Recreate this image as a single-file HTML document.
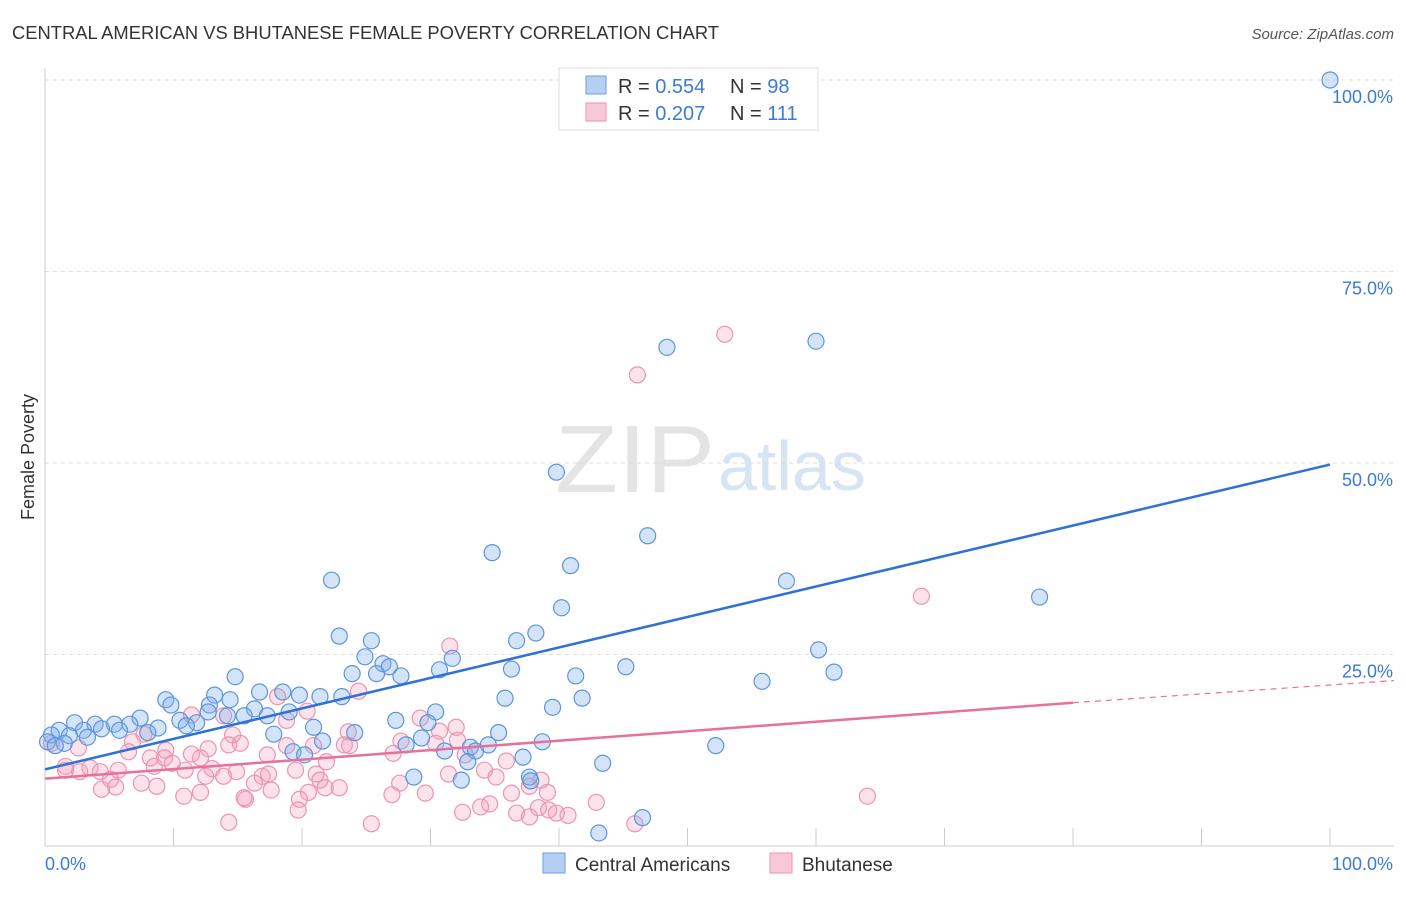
<!DOCTYPE html>
<html><head><meta charset="utf-8"><style>
body{margin:0;background:#fff;font-family:"Liberation Sans",sans-serif;}
svg text{font-family:"Liberation Sans",sans-serif;}
</style></head><body>
<svg id="chart" width="1406" height="892">
<text x="12" y="39" font-size="18" fill="#333" textLength="707" lengthAdjust="spacingAndGlyphs">CENTRAL AMERICAN VS BHUTANESE FEMALE POVERTY CORRELATION CHART</text>
<text x="1394" y="39" font-size="15" fill="#555" font-style="italic" text-anchor="end">Source: ZipAtlas.com</text>
<text transform="translate(34,457) rotate(-90)" font-size="18" fill="#333" text-anchor="middle">Female Poverty</text>
<text x="555" y="492" font-size="96" fill="#e4e4e4" font-family="Liberation Serif" textLength="160" lengthAdjust="spacingAndGlyphs">ZIP</text>
<text x="718" y="490" font-size="70" fill="#d6e4f3">atlas</text>
<g id="grid"></g><g id="axes"></g><g id="pts"></g><g id="trend"></g>
<g>
<rect x="559" y="68" width="259" height="62" fill="#fff" stroke="#ddd"/>
<rect x="586" y="76" width="20" height="18" fill="#b5cff2" stroke="#6a9ee0"/>
<rect x="586" y="103" width="20" height="18" fill="#f8c8d8" stroke="#eb93b2"/>
<text x="618" y="93" font-size="20" fill="#333">R = <tspan fill="#3a7bd5">0.554</tspan></text>
<text x="730" y="93" font-size="20" fill="#333">N = <tspan fill="#3a7bd5">98</tspan></text>
<text x="618" y="120" font-size="20" fill="#333">R = <tspan fill="#3a7bd5">0.207</tspan></text>
<text x="730" y="120" font-size="20" fill="#333">N = <tspan fill="#3a7bd5">111</tspan></text>
</g>
<g>
<rect x="543" y="853" width="22" height="20" fill="#b5cff2" stroke="#6a9ee0"/>
<text x="575" y="871" font-size="19" fill="#333">Central Americans</text>
<rect x="770" y="853" width="22" height="20" fill="#f8c8d8" stroke="#eb93b2"/>
<text x="802" y="871" font-size="19" fill="#333">Bhutanese</text>
</g>
</svg>
<script>
const blueX=[100,48.4,60.0,39.8,46.9,34.8,40.9,22.3,57.7,77.4,40.2,38.2,36.7,22.9,25.4,60.2,31.7,24.9,26.3,26.8,45.2,30.7,36.3,23.9,25.8,27.7,41.3,61.4,55.8,14.8,16.7,18.5,19.8,21.4,23.1,13.2,9.4,14.4,35.8,41.8,9.8,12.8,12.7,16.3,19.0,30.4,39.5,14.2,15.5,17.3,10.5,11.8,7.4,2.3,3.9,5.4,6.6,8.8,27.3,29.8,20.9,11.0,1.1,3.0,4.4,5.8,8.0,24.1,17.8,35.3,0.5,1.9,3.3,0.2,1.5,0.8,21.6,29.3,38.7,52.2,28.1,33.1,34.5,19.3,20.2,31.1,33.5,37.2,32.9,43.4,28.7,32.4,37.7,37.8,46.5,43.1];
const blueY=[100,65.1,65.9,48.8,40.5,38.3,36.6,34.7,34.6,32.5,31.1,27.8,26.8,27.4,26.8,25.6,24.5,24.7,23.8,23.4,23.4,23.0,23.1,22.5,22.5,22.2,22.2,22.7,21.5,22.1,20.1,20.1,19.7,19.5,19.5,19.7,19.1,19.1,19.3,19.3,18.4,18.4,17.5,17.9,17.5,17.5,18.1,17.0,17.0,17.0,16.4,16.1,16.7,16.1,15.9,15.9,15.9,15.4,16.4,16.1,15.5,15.7,15.1,15.1,15.3,15.1,14.8,14.8,14.6,14.8,14.5,14.4,14.2,13.6,13.4,13.1,13.7,14.1,13.6,13.1,13.2,12.9,13.2,12.3,11.9,12.4,12.4,11.6,11.0,10.8,9.0,8.6,9.0,8.5,3.7,1.7];
const pinkX=[52.9,46.1,68.2,31.5,24.4,18.1,20.4,29.2,11.4,13.9,18.8,32.0,23.6,30.7,14.6,7.7,32.1,27.7,30.4,23.7,14.3,15.2,6.8,0.5,2.6,18.8,20.9,23.3,12.7,6.5,9.4,11.4,17.3,27.1,8.2,9.3,9.9,12.1,32.7,35.9,21.9,5.7,1.6,3.5,8.5,10.9,13.0,14.9,19.5,1.6,2.7,4.3,34.2,21.1,31.4,16.9,17.4,13.9,5.1,12.5,21.4,35.1,38.6,16.3,27.6,37.7,5.5,4.4,7.5,8.7,17.6,22.9,21.8,20.5,12.1,10.8,27.0,29.6,39.1,36.3,15.6,19.8,64.0,15.5,34.6,33.9,42.9,32.5,36.7,38.4,39.2,39.8,40.7,19.7,37.7,14.3,25.4,45.9];
const pinkY=[66.8,61.5,32.6,26.1,20.2,19.5,17.6,16.7,17.1,17.0,16.4,15.5,14.9,15.0,14.5,14.6,13.8,13.7,13.4,13.1,13.2,13.4,13.6,13.4,12.8,13.1,13.1,13.2,12.7,12.3,12.5,12.0,11.9,12.1,11.5,11.5,10.8,11.5,11.9,11.1,11.0,9.9,10.4,10.2,10.4,9.9,10.1,9.7,9.9,9.9,9.7,9.7,9.9,9.4,9.4,9.1,9.4,9.1,8.7,9.1,8.6,9.0,8.6,8.2,8.2,7.8,7.7,7.4,8.2,7.8,7.3,7.6,7.6,7.0,7.0,6.5,6.7,6.9,7.0,6.9,6.1,6.1,6.5,6.3,5.5,5.1,5.7,4.4,4.3,5.0,4.7,4.3,4.0,4.7,3.8,3.1,2.9,2.9];
const yTicks=[25,50,75,100];
const yTickLabels=["25.0%","50.0%","75.0%","100.0%"];
const xTicks=[0,10,20,30,40,50,60,70,80,90,100];
const blueTrend=[[0,10.0],[100,49.8]];
const pinkTrend=[[0,8.8],[80,18.7],[100,21.4]];

const NS="http://www.w3.org/2000/svg";
const sx=v=>45+v*12.85, sy=v=>846-v*7.66;
function mk(tag,attrs,parent){const e=document.createElementNS(NS,tag);for(const k in attrs)e.setAttribute(k,attrs[k]);document.getElementById(parent).appendChild(e);return e;}
yTicks.forEach((t,i)=>{
  const g=mk('line',{x1:45,x2:1394,y1:sy(t),y2:sy(t),stroke:'#ddd','stroke-dasharray':'4,4'},'grid');
  
  
  const tx=mk('text',{x:1393,y:sy(t)+23,'font-size':18,fill:'#3a7bd5','text-anchor':'end'},'grid');
  tx.textContent=yTickLabels[i];
  
  
});
const ax=mk('line',{x1:45,x2:45,y1:68,y2:846,stroke:'#ccc'},'axes');


const bx=mk('line',{x1:45,x2:1394,y1:846,y2:846,stroke:'#ccc'},'axes');


xTicks.forEach(t=>{
  const l=mk('line',{x1:sx(t),x2:sx(t),y1:828,y2:846,stroke:'#ccc'},'axes');
  
  
});
const xl0=mk('text',{x:45,y:870,'font-size':18,fill:'#3a7bd5'},'axes');xl0.textContent='0.0%';


const xl1=mk('text',{x:1393,y:870,'font-size':18,fill:'#3a7bd5','text-anchor':'end'},'axes');xl1.textContent='100.0%';


pinkX.forEach((x,i)=>{
  const c=mk('circle',{cx:sx(x),cy:sy(pinkY[i]),r:8,fill:'rgba(243,160,190,0.3)',stroke:'#ec94b3','stroke-width':1.2},'pts');
  
  
});
blueX.forEach((x,i)=>{
  const c=mk('circle',{cx:sx(x),cy:sy(blueY[i]),r:8,fill:'rgba(130,175,235,0.35)',stroke:'#5d95dc','stroke-width':1.2},'pts');
  
  
});
const bl=mk('line',{x1:sx(blueTrend[0][0]),y1:sy(blueTrend[0][1]),x2:sx(blueTrend[1][0]),y2:sy(blueTrend[1][1]),stroke:'#2f72d6','stroke-width':2.5},'trend');


const pl=mk('line',{x1:sx(pinkTrend[0][0]),y1:sy(pinkTrend[0][1]),x2:sx(pinkTrend[1][0]),y2:sy(pinkTrend[1][1]),stroke:'#e8709a','stroke-width':2.5},'trend');


const pd=mk('line',{x1:sx(pinkTrend[1][0]),y1:sy(pinkTrend[1][1]),x2:sx(pinkTrend[2][0])+64,y2:sy(pinkTrend[2][1])-1.5,stroke:'#e8709a','stroke-width':1.2,'stroke-dasharray':'6,5'},'trend');


</script>
</body></html>
